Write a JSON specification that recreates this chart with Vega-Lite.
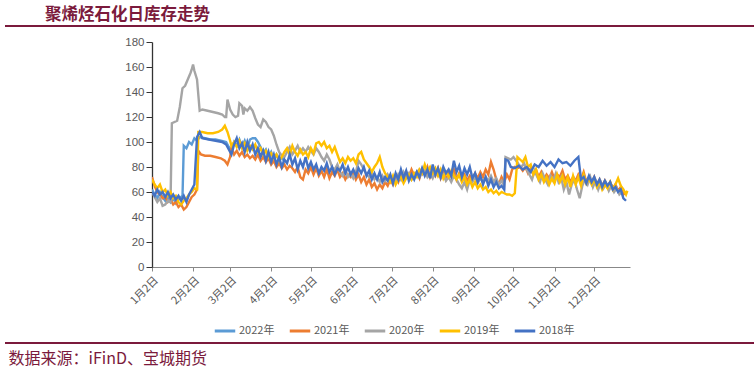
{
  "$schema": "https://vega.github.io/schema/vega-lite/v6.json",
  "width": 478,
  "height": 225,
  "autosize": {"type": "none"},
  "padding": {"left": 152, "top": 42, "right": 124, "bottom": 106},
  "background": "white",
  "title": {
    "text": "聚烯烃石化日库存走势",
    "anchor": "start",
    "frame": "group",
    "dx": -107,
    "offset": 2,
    "fontSize": 16.5,
    "fontWeight": "bold",
    "font": "Noto Sans CJK SC",
    "color": "#7B1A3C"
  },
  "config": {
    "view": {"stroke": null},
    "axis": {"grid": false, "labelColor": "#595959"},
    "axisY": {"labelFont": "Liberation Sans", "labelFontSize": 11.5, "labelOverlap": false, "labelPadding": 2, "tickSize": 6, "tickColor": "#333333", "domainColor": "#333333", "domainWidth": 1.3}
  },
  "data": {
    "values": [
      {"s":"2022年","d":2,"v":62},{"s":"2022年","d":4,"v":58},{"s":"2022年","d":6,"v":55},{"s":"2022年","d":8,"v":60},{"s":"2022年","d":10,"v":56},{"s":"2022年","d":12,"v":53},{"s":"2022年","d":14,"v":57},{"s":"2022年","d":16,"v":52},{"s":"2022年","d":18,"v":55},{"s":"2022年","d":20,"v":51},{"s":"2022年","d":22,"v":54},{"s":"2022年","d":24,"v":56},{"s":"2022年","d":25,"v":55},{"s":"2022年","d":26,"v":97},{"s":"2022年","d":28,"v":95},{"s":"2022年","d":30,"v":100},{"s":"2022年","d":32,"v":98},{"s":"2022年","d":34,"v":103},{"s":"2022年","d":36,"v":101},{"s":"2022年","d":38,"v":104},{"s":"2022年","d":42,"v":103},{"s":"2022年","d":46,"v":102},{"s":"2022年","d":50,"v":102},{"s":"2022年","d":54,"v":101},{"s":"2022年","d":58,"v":100},{"s":"2022年","d":60,"v":96},{"s":"2022年","d":62,"v":93},{"s":"2022年","d":64,"v":100},{"s":"2022年","d":66,"v":97},{"s":"2022年","d":68,"v":102},{"s":"2022年","d":70,"v":96},{"s":"2022年","d":72,"v":101},{"s":"2022年","d":74,"v":95},{"s":"2022年","d":76,"v":102},{"s":"2022年","d":78,"v":103},{"s":"2022年","d":80,"v":103},{"s":"2022年","d":82,"v":100},{"s":"2022年","d":84,"v":96},{"s":"2022年","d":86,"v":91},{"s":"2022年","d":88,"v":94},{"s":"2022年","d":90,"v":88},{"s":"2022年","d":92,"v":92},{"s":"2022年","d":94,"v":86},{"s":"2022年","d":96,"v":90},{"s":"2022年","d":98,"v":85},{"s":"2022年","d":100,"v":88},{"s":"2022年","d":102,"v":84},

      {"s":"2021年","d":2,"v":72},{"s":"2021年","d":4,"v":65},{"s":"2021年","d":6,"v":60},{"s":"2021年","d":8,"v":58},{"s":"2021年","d":10,"v":55},{"s":"2021年","d":12,"v":56},{"s":"2021年","d":14,"v":52},{"s":"2021年","d":16,"v":54},{"s":"2021年","d":18,"v":50},{"s":"2021年","d":20,"v":52},{"s":"2021年","d":22,"v":48},{"s":"2021年","d":24,"v":50},{"s":"2021年","d":26,"v":46},{"s":"2021年","d":28,"v":48},{"s":"2021年","d":30,"v":52},{"s":"2021年","d":32,"v":56},{"s":"2021年","d":34,"v":58},{"s":"2021年","d":36,"v":62},{"s":"2021年","d":37,"v":93},{"s":"2021年","d":39,"v":90},{"s":"2021年","d":42,"v":89},{"s":"2021年","d":46,"v":89},{"s":"2021年","d":50,"v":88},{"s":"2021年","d":54,"v":87},{"s":"2021年","d":57,"v":85},{"s":"2021年","d":59,"v":82},{"s":"2021年","d":61,"v":88},{"s":"2021年","d":62,"v":95},{"s":"2021年","d":64,"v":90},{"s":"2021年","d":66,"v":93},{"s":"2021年","d":68,"v":89},{"s":"2021年","d":70,"v":92},{"s":"2021年","d":72,"v":88},{"s":"2021年","d":74,"v":90},{"s":"2021年","d":76,"v":87},{"s":"2021年","d":78,"v":89},{"s":"2021年","d":80,"v":86},{"s":"2021年","d":82,"v":90},{"s":"2021年","d":84,"v":85},{"s":"2021年","d":86,"v":88},{"s":"2021年","d":88,"v":84},{"s":"2021年","d":90,"v":87},{"s":"2021年","d":92,"v":82},{"s":"2021年","d":94,"v":85},{"s":"2021年","d":96,"v":80},{"s":"2021年","d":98,"v":83},{"s":"2021年","d":100,"v":79},{"s":"2021年","d":102,"v":82},{"s":"2021年","d":104,"v":78},{"s":"2021年","d":106,"v":81},{"s":"2021年","d":108,"v":79},{"s":"2021年","d":110,"v":76},{"s":"2021年","d":112,"v":80},{"s":"2021年","d":114,"v":72},{"s":"2021年","d":116,"v":70},{"s":"2021年","d":118,"v":78},{"s":"2021年","d":120,"v":75},{"s":"2021年","d":122,"v":80},{"s":"2021年","d":124,"v":74},{"s":"2021年","d":126,"v":79},{"s":"2021年","d":128,"v":73},{"s":"2021年","d":130,"v":77},{"s":"2021年","d":132,"v":72},{"s":"2021年","d":134,"v":78},{"s":"2021年","d":136,"v":71},{"s":"2021年","d":138,"v":76},{"s":"2021年","d":140,"v":73},{"s":"2021年","d":142,"v":78},{"s":"2021年","d":144,"v":72},{"s":"2021年","d":146,"v":75},{"s":"2021年","d":148,"v":70},{"s":"2021年","d":150,"v":74},{"s":"2021年","d":152,"v":72},{"s":"2021年","d":154,"v":76},{"s":"2021年","d":156,"v":70},{"s":"2021年","d":158,"v":74},{"s":"2021年","d":160,"v":68},{"s":"2021年","d":162,"v":72},{"s":"2021年","d":164,"v":66},{"s":"2021年","d":166,"v":70},{"s":"2021年","d":168,"v":64},{"s":"2021年","d":170,"v":67},{"s":"2021年","d":172,"v":62},{"s":"2021年","d":174,"v":66},{"s":"2021年","d":176,"v":63},{"s":"2021年","d":178,"v":68},{"s":"2021年","d":180,"v":65},{"s":"2021年","d":182,"v":70},{"s":"2021年","d":184,"v":66},{"s":"2021年","d":186,"v":72},{"s":"2021年","d":188,"v":68},{"s":"2021年","d":190,"v":74},{"s":"2021年","d":192,"v":70},{"s":"2021年","d":194,"v":76},{"s":"2021年","d":196,"v":72},{"s":"2021年","d":198,"v":78},{"s":"2021年","d":200,"v":73},{"s":"2021年","d":202,"v":76},{"s":"2021年","d":204,"v":71},{"s":"2021年","d":206,"v":78},{"s":"2021年","d":208,"v":74},{"s":"2021年","d":210,"v":80},{"s":"2021年","d":212,"v":72},{"s":"2021年","d":214,"v":77},{"s":"2021年","d":216,"v":73},{"s":"2021年","d":218,"v":79},{"s":"2021年","d":220,"v":71},{"s":"2021年","d":222,"v":76},{"s":"2021年","d":224,"v":70},{"s":"2021年","d":226,"v":75},{"s":"2021年","d":228,"v":72},{"s":"2021年","d":230,"v":78},{"s":"2021年","d":232,"v":70},{"s":"2021年","d":234,"v":75},{"s":"2021年","d":236,"v":71},{"s":"2021年","d":238,"v":74},{"s":"2021年","d":240,"v":69},{"s":"2021年","d":242,"v":73},{"s":"2021年","d":244,"v":70},{"s":"2021年","d":246,"v":75},{"s":"2021年","d":248,"v":71},{"s":"2021年","d":250,"v":76},{"s":"2021年","d":252,"v":72},{"s":"2021年","d":254,"v":78},{"s":"2021年","d":256,"v":74},{"s":"2021年","d":258,"v":84},{"s":"2021年","d":260,"v":78},{"s":"2021年","d":262,"v":70},{"s":"2021年","d":264,"v":66},{"s":"2021年","d":266,"v":72},{"s":"2021年","d":268,"v":68},{"s":"2021年","d":270,"v":74},{"s":"2021年","d":272,"v":70},{"s":"2021年","d":274,"v":78},{"s":"2021年","d":276,"v":80},{"s":"2021年","d":278,"v":79},{"s":"2021年","d":280,"v":80},{"s":"2021年","d":282,"v":77},{"s":"2021年","d":284,"v":80},{"s":"2021年","d":286,"v":75},{"s":"2021年","d":288,"v":79},{"s":"2021年","d":290,"v":74},{"s":"2021年","d":292,"v":78},{"s":"2021年","d":294,"v":72},{"s":"2021年","d":296,"v":76},{"s":"2021年","d":298,"v":70},{"s":"2021年","d":300,"v":74},{"s":"2021年","d":302,"v":71},{"s":"2021年","d":304,"v":76},{"s":"2021年","d":306,"v":70},{"s":"2021年","d":308,"v":74},{"s":"2021年","d":310,"v":72},{"s":"2021年","d":312,"v":77},{"s":"2021年","d":314,"v":70},{"s":"2021年","d":316,"v":73},{"s":"2021年","d":318,"v":68},{"s":"2021年","d":320,"v":72},{"s":"2021年","d":322,"v":69},{"s":"2021年","d":324,"v":74},{"s":"2021年","d":326,"v":70},{"s":"2021年","d":328,"v":76},{"s":"2021年","d":330,"v":68},{"s":"2021年","d":332,"v":72},{"s":"2021年","d":334,"v":67},{"s":"2021年","d":336,"v":72},{"s":"2021年","d":338,"v":66},{"s":"2021年","d":340,"v":70},{"s":"2021年","d":342,"v":65},{"s":"2021年","d":344,"v":69},{"s":"2021年","d":346,"v":64},{"s":"2021年","d":348,"v":68},{"s":"2021年","d":350,"v":63},{"s":"2021年","d":352,"v":66},{"s":"2021年","d":354,"v":61},{"s":"2021年","d":356,"v":64},{"s":"2021年","d":358,"v":58},{"s":"2021年","d":360,"v":60},

      {"s":"2020年","d":2,"v":60},{"s":"2020年","d":4,"v":56},{"s":"2020年","d":6,"v":52},{"s":"2020年","d":8,"v":55},{"s":"2020年","d":10,"v":49},{"s":"2020年","d":12,"v":50},{"s":"2020年","d":14,"v":53},{"s":"2020年","d":16,"v":52},{"s":"2020年","d":17,"v":115},{"s":"2020年","d":19,"v":116},{"s":"2020年","d":21,"v":117},{"s":"2020年","d":23,"v":128},{"s":"2020年","d":25,"v":143},{"s":"2020年","d":27,"v":145},{"s":"2020年","d":29,"v":150},{"s":"2020年","d":31,"v":155},{"s":"2020年","d":32,"v":158},{"s":"2020年","d":33,"v":162},{"s":"2020年","d":34,"v":157},{"s":"2020年","d":36,"v":150},{"s":"2020年","d":38,"v":125},{"s":"2020年","d":40,"v":126},{"s":"2020年","d":44,"v":125},{"s":"2020年","d":48,"v":124},{"s":"2020年","d":52,"v":123},{"s":"2020年","d":55,"v":122},{"s":"2020年","d":57,"v":120},{"s":"2020年","d":58,"v":120},{"s":"2020年","d":59,"v":134},{"s":"2020年","d":61,"v":126},{"s":"2020年","d":63,"v":122},{"s":"2020年","d":65,"v":120},{"s":"2020年","d":67,"v":121},{"s":"2020年","d":68,"v":131},{"s":"2020年","d":70,"v":129},{"s":"2020年","d":71,"v":122},{"s":"2020年","d":72,"v":127},{"s":"2020年","d":74,"v":125},{"s":"2020年","d":76,"v":128},{"s":"2020年","d":78,"v":125},{"s":"2020年","d":80,"v":119},{"s":"2020年","d":82,"v":114},{"s":"2020年","d":84,"v":112},{"s":"2020年","d":86,"v":118},{"s":"2020年","d":88,"v":116},{"s":"2020年","d":90,"v":112},{"s":"2020年","d":92,"v":110},{"s":"2020年","d":94,"v":105},{"s":"2020年","d":96,"v":98},{"s":"2020年","d":98,"v":92},{"s":"2020年","d":100,"v":89},{"s":"2020年","d":102,"v":88},{"s":"2020年","d":104,"v":92},{"s":"2020年","d":106,"v":96},{"s":"2020年","d":108,"v":90},{"s":"2020年","d":110,"v":93},{"s":"2020年","d":112,"v":97},{"s":"2020年","d":114,"v":92},{"s":"2020年","d":116,"v":95},{"s":"2020年","d":118,"v":92},{"s":"2020年","d":120,"v":96},{"s":"2020年","d":122,"v":93},{"s":"2020年","d":124,"v":90},{"s":"2020年","d":126,"v":95},{"s":"2020年","d":128,"v":92},{"s":"2020年","d":130,"v":88},{"s":"2020年","d":132,"v":85},{"s":"2020年","d":134,"v":90},{"s":"2020年","d":136,"v":86},{"s":"2020年","d":138,"v":80},{"s":"2020年","d":140,"v":78},{"s":"2020年","d":142,"v":82},{"s":"2020年","d":144,"v":76},{"s":"2020年","d":146,"v":73},{"s":"2020年","d":148,"v":78},{"s":"2020年","d":150,"v":72},{"s":"2020年","d":152,"v":75},{"s":"2020年","d":154,"v":71},{"s":"2020年","d":156,"v":76},{"s":"2020年","d":158,"v":85},{"s":"2020年","d":160,"v":82},{"s":"2020年","d":162,"v":78},{"s":"2020年","d":164,"v":74},{"s":"2020年","d":166,"v":72},{"s":"2020年","d":168,"v":75},{"s":"2020年","d":170,"v":70},{"s":"2020年","d":172,"v":72},{"s":"2020年","d":174,"v":68},{"s":"2020年","d":176,"v":73},{"s":"2020年","d":178,"v":69},{"s":"2020年","d":180,"v":74},{"s":"2020年","d":182,"v":70},{"s":"2020年","d":184,"v":72},{"s":"2020年","d":186,"v":68},{"s":"2020年","d":188,"v":74},{"s":"2020年","d":190,"v":70},{"s":"2020年","d":192,"v":76},{"s":"2020年","d":194,"v":72},{"s":"2020年","d":196,"v":75},{"s":"2020年","d":198,"v":70},{"s":"2020年","d":200,"v":73},{"s":"2020年","d":202,"v":76},{"s":"2020年","d":204,"v":78},{"s":"2020年","d":206,"v":74},{"s":"2020年","d":208,"v":77},{"s":"2020年","d":210,"v":72},{"s":"2020年","d":212,"v":75},{"s":"2020年","d":214,"v":71},{"s":"2020年","d":216,"v":76},{"s":"2020年","d":218,"v":73},{"s":"2020年","d":220,"v":72},{"s":"2020年","d":222,"v":74},{"s":"2020年","d":224,"v":69},{"s":"2020年","d":226,"v":72},{"s":"2020年","d":228,"v":68},{"s":"2020年","d":230,"v":73},{"s":"2020年","d":232,"v":70},{"s":"2020年","d":234,"v":66},{"s":"2020年","d":236,"v":63},{"s":"2020年","d":238,"v":68},{"s":"2020年","d":240,"v":62},{"s":"2020年","d":242,"v":70},{"s":"2020年","d":244,"v":68},{"s":"2020年","d":246,"v":72},{"s":"2020年","d":248,"v":67},{"s":"2020年","d":250,"v":71},{"s":"2020年","d":252,"v":68},{"s":"2020年","d":254,"v":72},{"s":"2020年","d":256,"v":69},{"s":"2020年","d":258,"v":73},{"s":"2020年","d":260,"v":68},{"s":"2020年","d":262,"v":71},{"s":"2020年","d":264,"v":66},{"s":"2020年","d":266,"v":69},{"s":"2020年","d":268,"v":65},{"s":"2020年","d":269,"v":88},{"s":"2020年","d":271,"v":87},{"s":"2020年","d":273,"v":86},{"s":"2020年","d":275,"v":88},{"s":"2020年","d":277,"v":85},{"s":"2020年","d":279,"v":82},{"s":"2020年","d":281,"v":80},{"s":"2020年","d":283,"v":83},{"s":"2020年","d":285,"v":78},{"s":"2020年","d":287,"v":74},{"s":"2020年","d":289,"v":70},{"s":"2020年","d":291,"v":77},{"s":"2020年","d":293,"v":72},{"s":"2020年","d":295,"v":68},{"s":"2020年","d":297,"v":75},{"s":"2020年","d":299,"v":70},{"s":"2020年","d":301,"v":66},{"s":"2020年","d":303,"v":73},{"s":"2020年","d":305,"v":69},{"s":"2020年","d":307,"v":75},{"s":"2020年","d":309,"v":68},{"s":"2020年","d":311,"v":72},{"s":"2020年","d":313,"v":62},{"s":"2020年","d":315,"v":68},{"s":"2020年","d":317,"v":58},{"s":"2020年","d":319,"v":66},{"s":"2020年","d":321,"v":70},{"s":"2020年","d":323,"v":62},{"s":"2020年","d":325,"v":55},{"s":"2020年","d":327,"v":65},{"s":"2020年","d":329,"v":70},{"s":"2020年","d":331,"v":66},{"s":"2020年","d":333,"v":72},{"s":"2020年","d":335,"v":64},{"s":"2020年","d":337,"v":69},{"s":"2020年","d":339,"v":62},{"s":"2020年","d":341,"v":68},{"s":"2020年","d":343,"v":63},{"s":"2020年","d":345,"v":67},{"s":"2020年","d":347,"v":61},{"s":"2020年","d":349,"v":65},{"s":"2020年","d":351,"v":60},{"s":"2020年","d":353,"v":63},{"s":"2020年","d":355,"v":58},{"s":"2020年","d":357,"v":60},

      {"s":"2019年","d":2,"v":70},{"s":"2019年","d":4,"v":66},{"s":"2019年","d":6,"v":63},{"s":"2019年","d":8,"v":66},{"s":"2019年","d":10,"v":60},{"s":"2019年","d":12,"v":62},{"s":"2019年","d":14,"v":57},{"s":"2019年","d":16,"v":60},{"s":"2019年","d":18,"v":55},{"s":"2019年","d":20,"v":57},{"s":"2019年","d":22,"v":52},{"s":"2019年","d":24,"v":50},{"s":"2019年","d":26,"v":53},{"s":"2019年","d":28,"v":55},{"s":"2019年","d":30,"v":58},{"s":"2019年","d":32,"v":60},{"s":"2019年","d":34,"v":63},{"s":"2019年","d":36,"v":62},{"s":"2019年","d":37,"v":108},{"s":"2019年","d":40,"v":108},{"s":"2019年","d":44,"v":107},{"s":"2019年","d":48,"v":107},{"s":"2019年","d":52,"v":108},{"s":"2019年","d":55,"v":110},{"s":"2019年","d":57,"v":113},{"s":"2019年","d":59,"v":108},{"s":"2019年","d":61,"v":101},{"s":"2019年","d":62,"v":97},{"s":"2019年","d":64,"v":100},{"s":"2019年","d":66,"v":96},{"s":"2019年","d":68,"v":101},{"s":"2019年","d":70,"v":95},{"s":"2019年","d":72,"v":99},{"s":"2019年","d":74,"v":93},{"s":"2019年","d":76,"v":97},{"s":"2019年","d":78,"v":94},{"s":"2019年","d":80,"v":98},{"s":"2019年","d":82,"v":92},{"s":"2019年","d":84,"v":95},{"s":"2019年","d":86,"v":90},{"s":"2019年","d":88,"v":93},{"s":"2019年","d":90,"v":88},{"s":"2019年","d":92,"v":91},{"s":"2019年","d":94,"v":87},{"s":"2019年","d":96,"v":90},{"s":"2019年","d":98,"v":85},{"s":"2019年","d":100,"v":88},{"s":"2019年","d":102,"v":92},{"s":"2019年","d":104,"v":95},{"s":"2019年","d":106,"v":90},{"s":"2019年","d":108,"v":97},{"s":"2019年","d":110,"v":92},{"s":"2019年","d":112,"v":89},{"s":"2019年","d":114,"v":94},{"s":"2019年","d":116,"v":90},{"s":"2019年","d":118,"v":92},{"s":"2019年","d":120,"v":88},{"s":"2019年","d":122,"v":95},{"s":"2019年","d":124,"v":91},{"s":"2019年","d":126,"v":99},{"s":"2019年","d":128,"v":100},{"s":"2019年","d":130,"v":97},{"s":"2019年","d":132,"v":100},{"s":"2019年","d":134,"v":95},{"s":"2019年","d":136,"v":97},{"s":"2019年","d":138,"v":92},{"s":"2019年","d":140,"v":96},{"s":"2019年","d":142,"v":90},{"s":"2019年","d":144,"v":84},{"s":"2019年","d":146,"v":87},{"s":"2019年","d":148,"v":83},{"s":"2019年","d":150,"v":88},{"s":"2019年","d":152,"v":85},{"s":"2019年","d":154,"v":87},{"s":"2019年","d":156,"v":83},{"s":"2019年","d":158,"v":90},{"s":"2019年","d":160,"v":92},{"s":"2019年","d":162,"v":86},{"s":"2019年","d":164,"v":83},{"s":"2019年","d":166,"v":80},{"s":"2019年","d":168,"v":76},{"s":"2019年","d":170,"v":80},{"s":"2019年","d":172,"v":83},{"s":"2019年","d":174,"v":88},{"s":"2019年","d":176,"v":80},{"s":"2019年","d":178,"v":75},{"s":"2019年","d":180,"v":72},{"s":"2019年","d":182,"v":68},{"s":"2019年","d":184,"v":73},{"s":"2019年","d":186,"v":66},{"s":"2019年","d":188,"v":70},{"s":"2019年","d":190,"v":72},{"s":"2019年","d":192,"v":67},{"s":"2019年","d":194,"v":71},{"s":"2019年","d":196,"v":74},{"s":"2019年","d":198,"v":70},{"s":"2019年","d":200,"v":75},{"s":"2019年","d":202,"v":72},{"s":"2019年","d":204,"v":78},{"s":"2019年","d":206,"v":75},{"s":"2019年","d":208,"v":82},{"s":"2019年","d":210,"v":76},{"s":"2019年","d":212,"v":80},{"s":"2019年","d":214,"v":75},{"s":"2019年","d":216,"v":79},{"s":"2019年","d":218,"v":73},{"s":"2019年","d":220,"v":78},{"s":"2019年","d":222,"v":71},{"s":"2019年","d":224,"v":76},{"s":"2019年","d":226,"v":72},{"s":"2019年","d":228,"v":77},{"s":"2019年","d":230,"v":73},{"s":"2019年","d":232,"v":70},{"s":"2019年","d":234,"v":74},{"s":"2019年","d":236,"v":68},{"s":"2019年","d":238,"v":72},{"s":"2019年","d":240,"v":66},{"s":"2019年","d":242,"v":70},{"s":"2019年","d":244,"v":64},{"s":"2019年","d":246,"v":68},{"s":"2019年","d":248,"v":63},{"s":"2019年","d":250,"v":66},{"s":"2019年","d":252,"v":62},{"s":"2019年","d":254,"v":64},{"s":"2019年","d":256,"v":60},{"s":"2019年","d":258,"v":62},{"s":"2019年","d":260,"v":59},{"s":"2019年","d":262,"v":61},{"s":"2019年","d":264,"v":58},{"s":"2019年","d":266,"v":60},{"s":"2019年","d":268,"v":59},{"s":"2019年","d":270,"v":58},{"s":"2019年","d":272,"v":58},{"s":"2019年","d":274,"v":57},{"s":"2019年","d":276,"v":59},{"s":"2019年","d":278,"v":88},{"s":"2019年","d":280,"v":86},{"s":"2019年","d":282,"v":84},{"s":"2019年","d":284,"v":88},{"s":"2019年","d":286,"v":80},{"s":"2019年","d":288,"v":82},{"s":"2019年","d":290,"v":74},{"s":"2019年","d":292,"v":78},{"s":"2019年","d":294,"v":70},{"s":"2019年","d":296,"v":74},{"s":"2019年","d":298,"v":68},{"s":"2019年","d":300,"v":72},{"s":"2019年","d":302,"v":66},{"s":"2019年","d":304,"v":71},{"s":"2019年","d":306,"v":67},{"s":"2019年","d":308,"v":74},{"s":"2019年","d":310,"v":68},{"s":"2019年","d":312,"v":73},{"s":"2019年","d":314,"v":66},{"s":"2019年","d":316,"v":72},{"s":"2019年","d":318,"v":64},{"s":"2019年","d":320,"v":73},{"s":"2019年","d":322,"v":66},{"s":"2019年","d":324,"v":72},{"s":"2019年","d":326,"v":65},{"s":"2019年","d":328,"v":74},{"s":"2019年","d":330,"v":67},{"s":"2019年","d":332,"v":71},{"s":"2019年","d":334,"v":66},{"s":"2019年","d":336,"v":70},{"s":"2019年","d":338,"v":64},{"s":"2019年","d":340,"v":68},{"s":"2019年","d":342,"v":62},{"s":"2019年","d":344,"v":66},{"s":"2019年","d":346,"v":63},{"s":"2019年","d":348,"v":68},{"s":"2019年","d":350,"v":62},{"s":"2019年","d":352,"v":66},{"s":"2019年","d":354,"v":71},{"s":"2019年","d":356,"v":65},{"s":"2019年","d":358,"v":62},{"s":"2019年","d":360,"v":58},{"s":"2019年","d":361,"v":61},

      {"s":"2018年","d":2,"v":60},{"s":"2018年","d":4,"v":57},{"s":"2018年","d":6,"v":62},{"s":"2018年","d":8,"v":58},{"s":"2018年","d":10,"v":60},{"s":"2018年","d":12,"v":56},{"s":"2018年","d":14,"v":60},{"s":"2018年","d":16,"v":55},{"s":"2018年","d":18,"v":58},{"s":"2018年","d":20,"v":54},{"s":"2018年","d":22,"v":57},{"s":"2018年","d":24,"v":53},{"s":"2018年","d":26,"v":57},{"s":"2018年","d":28,"v":52},{"s":"2018年","d":30,"v":58},{"s":"2018年","d":32,"v":62},{"s":"2018年","d":34,"v":66},{"s":"2018年","d":36,"v":104},{"s":"2018年","d":38,"v":108},{"s":"2018年","d":40,"v":103},{"s":"2018年","d":45,"v":102},{"s":"2018年","d":50,"v":101},{"s":"2018年","d":55,"v":100},{"s":"2018年","d":58,"v":98},{"s":"2018年","d":60,"v":94},{"s":"2018年","d":62,"v":90},{"s":"2018年","d":64,"v":98},{"s":"2018年","d":66,"v":103},{"s":"2018年","d":68,"v":95},{"s":"2018年","d":70,"v":99},{"s":"2018年","d":72,"v":92},{"s":"2018年","d":74,"v":100},{"s":"2018年","d":76,"v":93},{"s":"2018年","d":78,"v":98},{"s":"2018年","d":80,"v":90},{"s":"2018年","d":82,"v":95},{"s":"2018年","d":84,"v":88},{"s":"2018年","d":86,"v":93},{"s":"2018年","d":88,"v":85},{"s":"2018年","d":90,"v":92},{"s":"2018年","d":92,"v":84},{"s":"2018年","d":94,"v":90},{"s":"2018年","d":96,"v":82},{"s":"2018年","d":98,"v":88},{"s":"2018年","d":100,"v":80},{"s":"2018年","d":102,"v":86},{"s":"2018年","d":104,"v":83},{"s":"2018年","d":106,"v":90},{"s":"2018年","d":108,"v":82},{"s":"2018年","d":110,"v":87},{"s":"2018年","d":112,"v":78},{"s":"2018年","d":114,"v":85},{"s":"2018年","d":116,"v":80},{"s":"2018年","d":118,"v":88},{"s":"2018年","d":120,"v":79},{"s":"2018年","d":122,"v":84},{"s":"2018年","d":124,"v":78},{"s":"2018年","d":126,"v":82},{"s":"2018年","d":128,"v":75},{"s":"2018年","d":130,"v":80},{"s":"2018年","d":132,"v":77},{"s":"2018年","d":134,"v":83},{"s":"2018年","d":136,"v":76},{"s":"2018年","d":138,"v":80},{"s":"2018年","d":140,"v":74},{"s":"2018年","d":142,"v":79},{"s":"2018年","d":144,"v":77},{"s":"2018年","d":146,"v":82},{"s":"2018年","d":148,"v":75},{"s":"2018年","d":150,"v":80},{"s":"2018年","d":152,"v":74},{"s":"2018年","d":154,"v":78},{"s":"2018年","d":156,"v":73},{"s":"2018年","d":158,"v":79},{"s":"2018年","d":160,"v":75},{"s":"2018年","d":162,"v":80},{"s":"2018年","d":164,"v":73},{"s":"2018年","d":166,"v":77},{"s":"2018年","d":168,"v":70},{"s":"2018年","d":170,"v":75},{"s":"2018年","d":172,"v":70},{"s":"2018年","d":174,"v":76},{"s":"2018年","d":176,"v":68},{"s":"2018年","d":178,"v":72},{"s":"2018年","d":180,"v":69},{"s":"2018年","d":182,"v":74},{"s":"2018年","d":184,"v":67},{"s":"2018年","d":186,"v":75},{"s":"2018年","d":188,"v":70},{"s":"2018年","d":190,"v":78},{"s":"2018年","d":192,"v":71},{"s":"2018年","d":194,"v":77},{"s":"2018年","d":196,"v":69},{"s":"2018年","d":198,"v":74},{"s":"2018年","d":200,"v":70},{"s":"2018年","d":202,"v":76},{"s":"2018年","d":204,"v":72},{"s":"2018年","d":206,"v":79},{"s":"2018年","d":208,"v":73},{"s":"2018年","d":210,"v":78},{"s":"2018年","d":212,"v":71},{"s":"2018年","d":214,"v":82},{"s":"2018年","d":216,"v":74},{"s":"2018年","d":218,"v":79},{"s":"2018年","d":220,"v":72},{"s":"2018年","d":222,"v":80},{"s":"2018年","d":224,"v":75},{"s":"2018年","d":226,"v":78},{"s":"2018年","d":228,"v":73},{"s":"2018年","d":230,"v":85},{"s":"2018年","d":232,"v":76},{"s":"2018年","d":234,"v":81},{"s":"2018年","d":236,"v":72},{"s":"2018年","d":238,"v":79},{"s":"2018年","d":240,"v":74},{"s":"2018年","d":242,"v":80},{"s":"2018年","d":244,"v":71},{"s":"2018年","d":246,"v":75},{"s":"2018年","d":248,"v":68},{"s":"2018年","d":250,"v":73},{"s":"2018年","d":252,"v":66},{"s":"2018年","d":254,"v":72},{"s":"2018年","d":256,"v":65},{"s":"2018年","d":258,"v":70},{"s":"2018年","d":260,"v":64},{"s":"2018年","d":262,"v":68},{"s":"2018年","d":264,"v":63},{"s":"2018年","d":266,"v":65},{"s":"2018年","d":268,"v":62},{"s":"2018年","d":269,"v":86},{"s":"2018年","d":271,"v":85},{"s":"2018年","d":273,"v":80},{"s":"2018年","d":276,"v":79},{"s":"2018年","d":279,"v":81},{"s":"2018年","d":282,"v":78},{"s":"2018年","d":285,"v":80},{"s":"2018年","d":288,"v":76},{"s":"2018年","d":291,"v":82},{"s":"2018年","d":294,"v":80},{"s":"2018年","d":297,"v":85},{"s":"2018年","d":300,"v":81},{"s":"2018年","d":303,"v":84},{"s":"2018年","d":306,"v":80},{"s":"2018年","d":309,"v":86},{"s":"2018年","d":312,"v":83},{"s":"2018年","d":315,"v":84},{"s":"2018年","d":318,"v":81},{"s":"2018年","d":321,"v":85},{"s":"2018年","d":324,"v":88},{"s":"2018年","d":326,"v":70},{"s":"2018年","d":328,"v":72},{"s":"2018年","d":330,"v":67},{"s":"2018年","d":332,"v":73},{"s":"2018年","d":334,"v":68},{"s":"2018年","d":336,"v":72},{"s":"2018年","d":338,"v":66},{"s":"2018年","d":340,"v":70},{"s":"2018年","d":342,"v":64},{"s":"2018年","d":344,"v":69},{"s":"2018年","d":346,"v":65},{"s":"2018年","d":348,"v":68},{"s":"2018年","d":350,"v":62},{"s":"2018年","d":352,"v":64},{"s":"2018年","d":354,"v":60},{"s":"2018年","d":356,"v":62},{"s":"2018年","d":358,"v":55},{"s":"2018年","d":360,"v":53}
    ]
  },
  "layer": [
    {
      "mark": {"type": "line", "strokeWidth": 2.4, "clip": true},
      "encoding": {
        "x": {
          "field": "d",
          "type": "quantitative",
          "scale": {"domain": [2, 363], "nice": false, "zero": false},
          "axis": {
            "values": [2, 33, 61, 92, 122, 153, 183, 214, 245, 275, 306, 336],
            "labelExpr": "(indexof([2,33,61,92,122,153,183,214,245,275,306,336], datum.value) + 1) + '月2日'",
            "labelAngle": -45,
            "labelFont": "Noto Sans CJK SC",
            "labelFontSize": 11,
            "labelPadding": 3,
            "labelOverlap": false,
            "tickSize": 4,
            "tickColor": "#888888",
            "domainColor": "#888888",
            "domainWidth": 1.2,
            "title": "数据来源：iFinD、宝城期货",
            "titleAnchor": "start",
            "titleAlign": "left",
            "titleBaseline": "middle",
            "titleX": -144,
            "titleY": 91,
            "titleFont": "Noto Sans CJK SC",
            "titleFontSize": 16,
            "titleFontWeight": "normal",
            "titleColor": "#7B1A3C"
          }
        },
        "y": {
          "field": "v",
          "type": "quantitative",
          "scale": {"domain": [0, 180], "nice": false},
          "axis": {"values": [0, 20, 40, 60, 80, 100, 120, 140, 160, 180], "title": null}
        },
        "color": {
          "field": "s",
          "type": "nominal",
          "sort": ["2022年", "2021年", "2020年", "2019年", "2018年"],
          "scale": {
            "domain": ["2022年", "2021年", "2020年", "2019年", "2018年"],
            "range": ["#5B9BD5", "#ED7D31", "#A5A5A5", "#FFC000", "#4472C4"]
          },
          "legend": {
            "title": null,
            "orient": "none",
            "direction": "horizontal",
            "legendX": 61,
            "legendY": 277,
            "symbolType": "stroke",
            "symbolSize": 420,
            "symbolStrokeWidth": 3,
            "labelFont": "Noto Sans CJK SC",
            "labelFontSize": 11,
            "labelColor": "#595959",
            "labelOffset": 2,
            "columnPadding": 8
          }
        }
      }
    },
    {
      "mark": {"type": "rule", "color": "#7B1A3C", "strokeWidth": 1.5},
      "encoding": {
        "x": {"datum": -109, "type": "quantitative"},
        "x2": {"datum": 456},
        "y": {"datum": 193, "type": "quantitative", "axis": {"values": [0, 20, 40, 60, 80, 100, 120, 140, 160, 180], "title": null}}
      }
    },
    {
      "mark": {"type": "rule", "color": "#7B1A3C", "strokeWidth": 1.5},
      "encoding": {
        "x": {"datum": -109, "type": "quantitative"},
        "x2": {"datum": 456},
        "y": {"datum": -61, "type": "quantitative", "axis": {"values": [0, 20, 40, 60, 80, 100, 120, 140, 160, 180], "title": null}}
      }
    }
  ]
}
